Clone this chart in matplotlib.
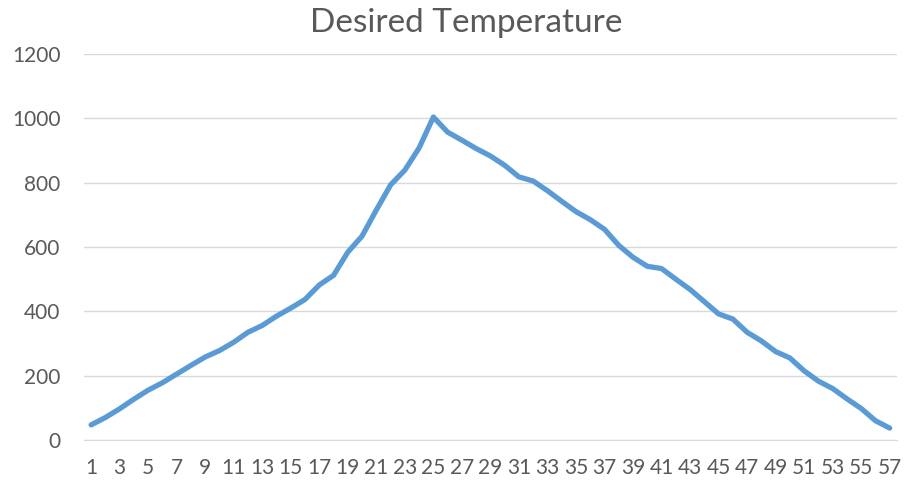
import numpy as np
import matplotlib
matplotlib.use("Agg")
import matplotlib.pyplot as plt

# series values (one per category 1..57)
categories = list(range(1, 58))
temperature = [47, 70, 97, 127, 155, 178, 205, 232, 258, 278,
               304, 335, 356, 385, 410, 437, 482, 512, 584, 634,
               715, 793, 839, 908, 1004, 957, 932, 906, 883, 854,
               818, 805, 775, 742, 710, 685, 655, 605, 568, 540,
               533, 500, 468, 430, 392, 376, 335, 308, 275, 255,
               215, 183, 160, 128, 98, 60, 37]
yticks = [0, 200, 400, 600, 800, 1000, 1200]

plt.rcParams['font.family'] = ['Lato', 'DejaVu Sans']
text_col = '#595959'
grid_col = '#D9D9D9'

fig = plt.figure(figsize=(9.05, 4.82), dpi=100)
ax = fig.add_axes([0.0928, 0.0871, 0.8982, 0.8009])

ax.plot(categories, temperature, color='#5B9BD5', linewidth=3.8,
        solid_joinstyle='round', solid_capstyle='round', zorder=3)

ax.set_xlim(0.5, 57.5)
ax.set_ylim(0, 1200)
ax.set_yticks(yticks)
ax.set_xticks(categories[::2])
ax.set_xticklabels([str(c) for c in categories[::2]])

ax.grid(True, axis='y', color=grid_col, linewidth=1.0)
ax.set_axisbelow(True)
for s in ['top', 'right', 'left']:
    ax.spines[s].set_visible(False)
ax.spines['bottom'].set_color(grid_col)
ax.tick_params(axis='both', length=0, labelsize=15, colors=text_col)
ax.tick_params(axis='y', pad=17)
ax.tick_params(axis='x', pad=13)

fig.text(0.515, 0.952, "Desired Temperature", ha='center', va='center',
         fontsize=24, color=text_col)

fig.savefig("out.png", dpi=100)
